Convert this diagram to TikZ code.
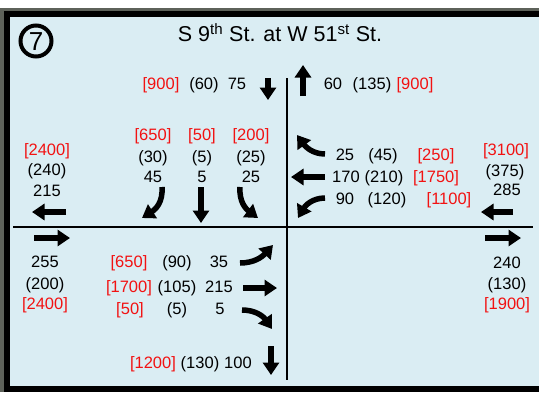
\documentclass[tikz,border=0pt]{standalone}
\usepackage{fontspec}
\setmainfont{Liberation Sans}
\usetikzlibrary{arrows.meta}
\definecolor{panel}{HTML}{DAEDF3}
\definecolor{vol}{HTML}{F21212}
\definecolor{photo}{HTML}{5E625A}
\tikzset{cnt/.style={font=\fontsize{16.5}{18}\selectfont,text height=11.8pt,text depth=0pt,inner sep=0pt},
  pk/.style={cnt,text=vol},
  road/.style={line width=2pt,draw=black},
  mv/.style={line width=5.5pt,-{Triangle[length=12.5pt,width=16pt]}}}

\begin{document}
\begin{tikzpicture}[x=1pt,y=-1pt]
\useasboundingbox (0,0) rectangle (539,392);
\clip (0,0) rectangle (539,392);
\fill[white] (0,0) rectangle (539,392);
\fill[photo] (0,8) rectangle (539,392);
\filldraw[fill=panel,draw=black,line width=6pt] (7,14) rectangle (560,389);
% header
\node[circle,draw,line width=4pt,minimum size=31pt,inner sep=0pt,font=\fontsize{26}{26}\selectfont,text height=18.6pt,text depth=0pt] (num) at (36,41) {7};
\node[font=\fontsize{21.5}{24}\selectfont,text height=15.4pt,text depth=0pt,inner sep=0pt] (title) at (280,34) {S 9\textsuperscript{th} St. at W 51\textsuperscript{st} St.};
% roads
\draw[road] (13,227) -- (533,227);
\draw[road] (287,78) -- (287,380);
% volumes
\foreach \x/\y/\s/\t [count=\i] in {
  161/84/pk/{[900]},204/84/cnt/(60),237/84/cnt/75,
  333/84/cnt/60,372/84/cnt/(135),415/84/pk/{[900]},
  47/150/pk/{[2400]},47/170/cnt/(240),47/191/cnt/215,
  153/135/pk/{[650]},153/157/cnt/(30),153/177/cnt/45,
  202/135/pk/{[50]},202/157/cnt/(5),202/177/cnt/5,
  251/135/pk/{[200]},251/157/cnt/(25),251/177/cnt/25,
  345/155/cnt/25,383/155/cnt/(45),436/155/pk/{[250]},
  346/177/cnt/170,384/177/cnt/(210),436/177/pk/{[1750]},
  345/199/cnt/90,387/199/cnt/(120),449/199/pk/{[1100]},
  506/150/pk/{[3100]},505/171/cnt/(375),507/190/cnt/285,
  507/263/cnt/240,507/284/cnt/(130),507/304/pk/{[1900]},
  45/262/cnt/255,45/284/cnt/(200),45/304/pk/{[2400]},
  129/262/pk/{[650]},177/262/cnt/(90),219/262/cnt/35,
  129/287/pk/{[1700]},177/287/cnt/(105),219/287/cnt/215,
  130/309/pk/{[50]},177/309/cnt/(5),220/309/cnt/5,
  153/363/pk/{[1200]},200/363/cnt/(130),238/363/cnt/100}
  {\node[\s] (lbl\i) at (\x,\y) {\t};}
% movements
\draw[mv] (268,78) -- (268,100);
\draw[mv] (303,96) -- (303,65);
\draw[mv] (162,187) .. controls (163,202) and (156,209) .. (142,218);
\draw[mv] (201,187) -- (201,223);
\draw[mv] (240,187) .. controls (239,202) and (246,209) .. (258,218);
\draw[mv] (325,154) .. controls (312,154) and (305,146) .. (297,135);
\draw[mv] (325,177) -- (291,177);
\draw[mv] (325,198) .. controls (312,198) and (305,206) .. (298,218);
\draw[mv] (66,212) -- (32,212);
\draw[mv] (34,238) -- (70,238);
\draw[mv] (513,212) -- (481,212);
\draw[mv] (485,238) -- (521,238);
\draw[mv] (240,263) .. controls (254,263) and (262,257) .. (273,245);
\draw[mv] (243,288) -- (277,288);
\draw[mv] (242,310) .. controls (255,310) and (263,316) .. (272,329);
\draw[mv] (271,346) -- (271,375);
\end{tikzpicture}
\end{document}
